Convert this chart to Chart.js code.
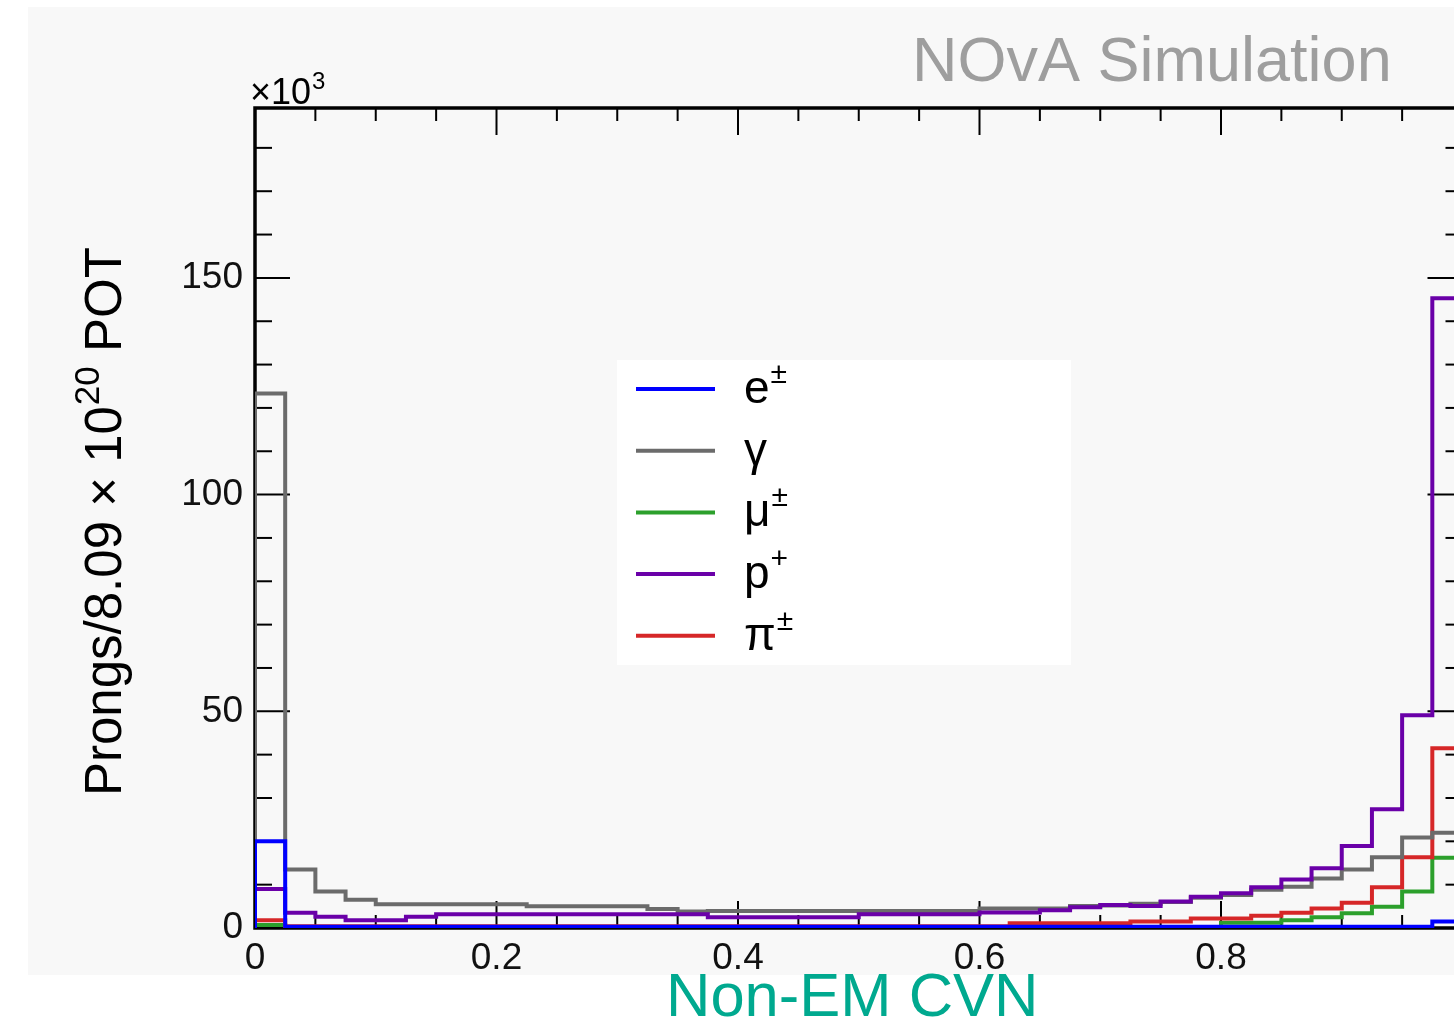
<!DOCTYPE html>
<html>
<head>
<meta charset="utf-8">
<title>Non-EM CVN</title>
<script src="https://cdn.jsdelivr.net/npm/chart.js@4.4.1/dist/chart.umd.min.js"></script>
<style>
  html, body { margin: 0; padding: 0; background: #fff; overflow: hidden; }
  #wrap { position: absolute; left: 0; top: 0; width: 1454px; height: 1026px; overflow: hidden; }
  #panel { position: absolute; left: 28px; top: 7px; width: 1500px; height: 968px; background: #f8f8f8; }
  #cvn { position: absolute; left: 0; top: 0; }
</style>
</head>
<body>
<div id="wrap">
  <div id="panel"></div>
  <canvas id="cvn" width="1500" height="1026"></canvas>
</div>
<script>
'use strict';

// ── Histogram binning: 40 bins of 0.025 on [0, 1] ──
const BIN_WIDTH = 0.025;
const N_BINS = 40;

// Prong counts per bin, in units of 10^3
const electronCounts = [
  20.0, 0.3, 0.3, 0.3, 0.3, 0.3, 0.3, 0.3, 0.3, 0.3,
  0.3, 0.3, 0.3, 0.3, 0.3, 0.3, 0.3, 0.3, 0.3, 0.3,
  0.3, 0.3, 0.3, 0.3, 0.3, 0.3, 0.3, 0.3, 0.3, 0.3,
  0.3, 0.3, 0.3, 0.3, 0.3, 0.3, 0.3, 0.3, 0.3, 1.5
];
const photonCounts = [
  123.3, 13.5, 8.4, 6.5, 5.5, 5.5, 5.5, 5.5, 5.5, 5.0,
  5.0, 5.0, 5.0, 4.4, 3.8, 3.9, 3.9, 3.9, 3.9, 3.9,
  3.9, 3.9, 3.9, 3.9, 4.5, 4.5, 4.5, 5.1, 5.2, 5.6,
  6.0, 7.0, 7.6, 8.8, 9.5, 11.4, 13.5, 16.3, 20.9, 22.0
];
const muonCounts = [
  0.7, 0.2, 0.2, 0.2, 0.2, 0.2, 0.2, 0.2, 0.2, 0.2,
  0.2, 0.2, 0.2, 0.2, 0.2, 0.2, 0.2, 0.2, 0.2, 0.2,
  0.2, 0.2, 0.2, 0.2, 0.2, 0.2, 0.2, 0.2, 0.2, 0.2,
  0.2, 0.2, 1.2, 1.2, 1.8, 2.5, 3.4, 4.9, 8.4, 16.2
];
const protonCounts = [
  9.0, 3.5, 2.6, 1.8, 1.8, 2.6, 3.2, 3.2, 3.2, 3.2,
  3.2, 3.2, 3.2, 3.2, 3.2, 2.5, 2.5, 2.5, 2.5, 2.5,
  3.2, 3.2, 3.2, 3.2, 3.6, 3.6, 4.1, 4.8, 5.3, 5.1,
  6.1, 7.2, 8.0, 9.4, 11.2, 13.8, 18.9, 27.4, 49.1, 145.3
];
const pionCounts = [
  1.8, 0.4, 0.4, 0.4, 0.4, 0.4, 0.4, 0.4, 0.4, 0.4,
  0.4, 0.4, 0.4, 0.4, 0.4, 0.4, 0.4, 0.4, 0.4, 0.4,
  0.4, 0.4, 0.4, 0.4, 0.4, 1.1, 1.1, 1.1, 1.1, 1.5,
  1.5, 2.2, 2.2, 2.8, 3.5, 4.5, 5.8, 9.4, 16.3, 41.5
];

// Legend entries: base symbol + superscript
const speciesBase = ['e', 'γ', 'μ', 'p', 'π'];
const speciesSup  = ['±', '', '±', '+', '±'];
const speciesColors = ['#0000ff', '#6b6b6b', '#2ca02c', '#6a00a8', '#d62728'];
// blue on top, then protons, photons, pions, muons underneath
const speciesOrder = [0, 2, 4, 1, 3];
const speciesCounts = [electronCounts, photonCounts, muonCounts, protonCounts, pionCounts];

// Axis ticks
const xLabelTicks = [0, 0.2, 0.4, 0.6, 0.8, 1.0];
const xMinorTicks = [0.05, 0.1, 0.15, 0.25, 0.3, 0.35, 0.45, 0.5, 0.55, 0.65, 0.7, 0.75, 0.85, 0.9, 0.95];
const yLabelTicks = [0, 50, 100, 150];
const yMinorTicks = [10, 20, 30, 40, 60, 70, 80, 90, 110, 120, 130, 140, 160, 170, 180];
const Y_MAX = 189.2;

const FONT = '"Liberation Sans", Arial, Helvetica, sans-serif';

// Turn bin contents into step-line points (left edges + closing right edge)
const toSteps = (counts) => {
  const pts = [{ x: 0, y: 0 }];
  counts.forEach((c, i) => pts.push({ x: i * BIN_WIDTH, y: c }));
  pts.push({ x: N_BINS * BIN_WIDTH, y: counts[counts.length - 1] });
  return pts;
};

// Frame + inward ticks, drawn under the histograms
const framePlugin = {
  id: 'frame',
  beforeDatasetsDraw(chart) {
    const { ctx, chartArea: a, scales: { x, y } } = chart;
    ctx.save();
    ctx.strokeStyle = '#000';
    ctx.lineWidth = 2;
    const tick = (x0, y0, x1, y1) => {
      ctx.beginPath(); ctx.moveTo(x0, y0); ctx.lineTo(x1, y1); ctx.stroke();
    };
    xLabelTicks.forEach(v => {
      const px = x.getPixelForValue(v);
      tick(px, a.bottom, px, a.bottom - 27);
      tick(px, a.top, px, a.top + 27);
    });
    xMinorTicks.forEach(v => {
      const px = x.getPixelForValue(v);
      tick(px, a.bottom, px, a.bottom - 13);
      tick(px, a.top, px, a.top + 13);
    });
    yLabelTicks.forEach(v => {
      const py = y.getPixelForValue(v);
      tick(a.left, py, a.left + 35, py);
      tick(a.right, py, a.right - 35, py);
    });
    yMinorTicks.forEach(v => {
      const py = y.getPixelForValue(v);
      tick(a.left, py, a.left + 17, py);
      tick(a.right, py, a.right - 17, py);
    });
    ctx.lineWidth = 3.5;
    ctx.strokeRect(a.left, a.top, a.right - a.left, a.bottom - a.top);
    ctx.restore();
  }
};

// Text with a raised superscript, returns end x
function drawSup(ctx, base, sup, x, y, size, supSize, raise) {
  ctx.font = `${size}px ${FONT}`;
  ctx.fillText(base, x, y);
  let end = x + ctx.measureText(base).width;
  if (sup) {
    ctx.font = `${supSize}px ${FONT}`;
    ctx.fillText(sup, end + 1, y - raise);
    end += 1 + ctx.measureText(sup).width;
  }
  return end;
}

// Legend box and annotations
const annotatePlugin = {
  id: 'annotate',
  afterDraw(chart) {
    const { ctx } = chart;
    ctx.save();
    ctx.textBaseline = 'alphabetic';
    ctx.textAlign = 'left';

    // legend
    ctx.fillStyle = '#ffffff';
    ctx.fillRect(617, 360, 454, 305);
    speciesBase.forEach((b, i) => {
      const ly = 389 + i * 61.7;
      ctx.strokeStyle = speciesColors[i];
      ctx.lineWidth = 4;
      ctx.beginPath(); ctx.moveTo(636, ly); ctx.lineTo(715, ly); ctx.stroke();
      ctx.fillStyle = '#000';
      drawSup(ctx, b, speciesSup[i], 744, ly + 14, 46, 30, 20);
    });

    // ×10^3 multiplier
    ctx.fillStyle = '#000';
    drawSup(ctx, '×10', '3', 250, 104, 36, 24, 15);

    // y-axis title
    ctx.save();
    ctx.translate(121, 796);
    ctx.rotate(-Math.PI / 2);
    let tx = drawSup(ctx, 'Prongs/8.09 × 10', '20', 0, 0, 51, 35, 22);
    ctx.font = `51px ${FONT}`;
    ctx.fillText(' POT', tx, 0);
    ctx.restore();

    // experiment tag
    ctx.fillStyle = '#9e9e9e';
    ctx.font = `63px ${FONT}`;
    ctx.fillText('NOvA Simulation', 912, 81);

    // variable name
    ctx.fillStyle = '#00a98f';
    ctx.font = `61.5px ${FONT}`;
    ctx.fillText('Non-EM CVN', 666, 1016);
    ctx.restore();
  }
};

const tickFont = { family: FONT, size: 37 };

new Chart(document.getElementById('cvn'), {
  type: 'line',
  data: {
    datasets: speciesCounts.map((counts, i) => ({
      label: speciesBase[i] + speciesSup[i],
      data: toSteps(counts),
      borderColor: speciesColors[i],
      borderWidth: 4,
      stepped: 'before',
      fill: false,
      pointRadius: 0,
      order: speciesOrder[i]
    }))
  },
  options: {
    responsive: false,
    animation: false,
    layout: { padding: { left: 0, top: 108, right: 37.5, bottom: 0 } },
    plugins: { legend: { display: false }, tooltip: { enabled: false } },
    scales: {
      x: {
        type: 'linear',
        min: 0,
        max: 1,
        grid: { display: false },
        border: { display: false },
        ticks: {
          font: tickFont,
          color: '#111',
          padding: 1,
          maxRotation: 0,
          callback: v => (v === 0 ? '0' : (v === 1 ? '1' : v.toFixed(1)))
        },
        afterBuildTicks: s => { s.ticks = xLabelTicks.map(v => ({ value: v })); },
        afterFit: s => { s.height = 98; }
      },
      y: {
        min: 0,
        max: Y_MAX,
        grid: { display: false },
        border: { display: false },
        ticks: { font: tickFont, color: '#111', padding: 4 },
        afterBuildTicks: s => { s.ticks = yLabelTicks.map(v => ({ value: v })); },
        afterFit: s => { s.width = 255; }
      }
    }
  },
  plugins: [framePlugin, annotatePlugin]
});
</script>
</body>
</html>
